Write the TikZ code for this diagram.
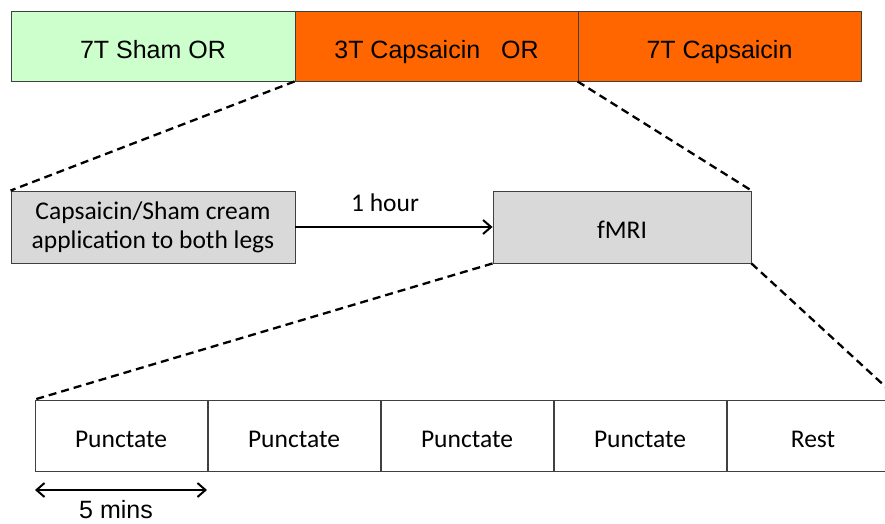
\documentclass[tikz,border=0pt]{standalone}
\usepackage{fontspec}
\setmainfont{Carlito}
\newfontfamily\arialf{Liberation Sans}
\usetikzlibrary{arrows.meta}
\definecolor{shamgreen}{HTML}{CCFFCC}
\definecolor{capsorange}{HTML}{FF6600}
\definecolor{boxgray}{HTML}{D9D9D9}
\definecolor{edgegray}{HTML}{404040}
\tikzset{
  topbox/.style={draw=edgegray, line width=0.9pt, inner sep=0pt, minimum width=283pt, minimum height=70pt, text height=25pt, text depth=0pt, font=\arialf\fontsize{25}{29}\selectfont},
  midbox/.style={draw=edgegray, fill=boxgray, line width=0.9pt, inner sep=0pt, minimum height=72pt, align=center, font=\fontsize{25.5}{29}\selectfont},
  rowbox/.style={draw=edgegray, fill=white, line width=0.9pt, inner sep=0pt, minimum width=172pt, minimum height=71pt, text height=23.4pt, text depth=0pt, font=\fontsize{25.5}{29}\selectfont},
  zoomline/.style={black, line width=2.3pt, dash pattern=on 8pt off 5pt},
  flowarrow/.style={black, line width=2pt, -{Straight Barb[length=8pt, width=14pt, line width=2pt]}},
  spanarrow/.style={black, line width=2pt, {Straight Barb[length=8pt, width=14pt, line width=2pt]}-{Straight Barb[length=8pt, width=14pt, line width=2pt]}},
  plainlabel/.style={inner sep=0pt}
}
\begin{document}
\begin{tikzpicture}[x=1pt, y=-1pt]
\useasboundingbox (0,0) rectangle (885,523);
\clip (0,0) rectangle (885,523);
% top bar
\node[topbox, fill=shamgreen, minimum width=284pt] (sham) at (153,46) {7T Sham OR};
\node[topbox, fill=capsorange] (cap3) at (436.5,46) {3T Capsaicin\ \ \ OR};
\node[topbox, fill=capsorange] (cap7) at (719.5,46) {7T Capsaicin};
% middle
\node[midbox, minimum width=284pt] (cream) at (153,227) {Capsaicin/Sham cream\\application to both legs};
\node[midbox, minimum width=258pt, text height=23.4pt, text depth=0pt] (fmri) at (622,227) {fMRI};
\draw[flowarrow] (cream.east) -- (fmri.west);
\node[plainlabel, font=\fontsize{25.5}{29}\selectfont] (hour) at (385,203) {1 hour};
% bottom row
\node[rowbox] (p1) at (121,435.5) {Punctate};
\node[rowbox] (p2) at (294,435.5) {Punctate};
\node[rowbox] (p3) at (467,435.5) {Punctate};
\node[rowbox] (p4) at (640,435.5) {Punctate};
\node[rowbox] (rest) at (813,435.5) {Rest};
% zoom lines
\draw[zoomline] (cap3.south west) -- (cream.north west);
\draw[zoomline] (cap7.south west) -- (fmri.north east);
\draw[zoomline] (fmri.south west) -- (p1.north west);
\draw[zoomline] (fmri.south east) -- (rest.north east);
% 5 mins
\coordinate (sa) at (35,490);
\coordinate (sb) at (207,490);
\draw[spanarrow] (sa) -- (sb);
\node[plainlabel, font=\arialf\fontsize{25}{29}\selectfont] (mins) at (116,510) {5 mins};
\end{tikzpicture}
\end{document}
